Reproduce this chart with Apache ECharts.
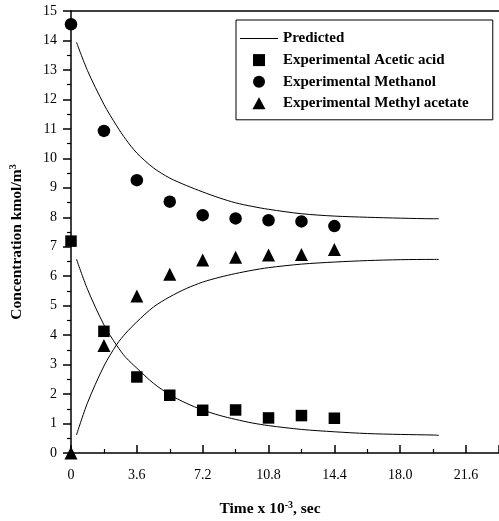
<!DOCTYPE html>
<html>
<head>
<meta charset="utf-8">
<script src="https://cdn.jsdelivr.net/npm/echarts@6/dist/echarts.min.js"></script>
<style>
  html, body { margin: 0; padding: 0; background: #fff; }
  #chart { width: 499px; height: 521px; }
</style>
</head>
<body>
<div id="chart"></div>
<script>
// Sampling times (x 10^-3 s) of the experimental runs
const expTime = [0, 1.8, 3.6, 5.4, 7.2, 9.0, 10.8, 12.6, 14.4];
// Measured concentrations, kmol/m3
const acidExp = [7.19, 4.13, 2.58, 1.96, 1.45, 1.46, 1.19, 1.27, 1.18];
const methanolExp = [14.55, 10.93, 9.26, 8.53, 8.07, 7.96, 7.90, 7.86, 7.70];
const esterExp = [0, 3.65, 5.33, 6.07, 6.55, 6.64, 6.72, 6.74, 6.91];

// Model prediction, sampled along the time axis
const predTime = [0.3, 0.9, 1.8, 2.5, 3.0, 3.6, 4.5, 5.4, 6.3, 7.2, 8.1, 9.0, 9.9, 10.8, 12.6, 14.4, 16.2, 18.0, 19.8, 20.1];
const acidPred = [6.58, 5.56, 4.35, 3.65, 3.24, 2.88, 2.37, 1.98, 1.69, 1.46, 1.28, 1.14, 1.02, 0.93, 0.80, 0.72, 0.66, 0.63, 0.61, 0.60];
const methanolPred = [13.94, 12.98, 11.83, 11.10, 10.64, 10.18, 9.68, 9.33, 9.08, 8.86, 8.66, 8.49, 8.37, 8.27, 8.12, 8.04, 8.00, 7.97, 7.95, 7.95];
const esterPred = [0.61, 1.70, 2.95, 3.68, 4.07, 4.45, 4.95, 5.30, 5.58, 5.80, 5.96, 6.09, 6.20, 6.29, 6.41, 6.48, 6.53, 6.56, 6.57, 6.57];

const xTicks = [0, 3.6, 7.2, 10.8, 14.4, 18.0, 21.6];

const serif = '"Liberation Serif", "Times New Roman", serif';
const pairs = (xs, ys) => xs.map((x, i) => [x, ys[i]]);

const chart = echarts.init(document.getElementById('chart'), null, { renderer: 'canvas' });

const lineSeries = (data) => ({
  name: 'Predicted',
  type: 'line',
  data: data,
  smooth: 0.3,
  symbol: 'none',
  showSymbol: false,
  lineStyle: { color: '#000', width: 1 },
  itemStyle: { color: '#000', opacity: 1 },
  clip: false,
  z: 2
});

const dotSeries = (name, symbol, size, data) => ({
  name: name,
  type: 'scatter',
  data: data,
  symbol: symbol,
  symbolSize: size,
  itemStyle: { color: '#000', opacity: 1 },
  clip: false,
  z: 3
});

chart.setOption({
  animation: false,
  backgroundColor: '#fff',
  grid: { left: 61, right: -21, top: 11, bottom: 68 },
  legend: {
    orient: 'vertical',
    left: 236,
    top: 20,
    padding: [11, 24, 9, 4],
    itemWidth: 38,
    itemHeight: 12,
    itemGap: 6.6,
    symbolKeepAspect: true,
    borderColor: '#000',
    borderWidth: 1,
    textStyle: { fontFamily: serif, fontWeight: 'bold', fontSize: 15, color: '#000' },
    data: [
      { name: 'Predicted', icon: 'path://M0,0 L38,0 L38,1.2 L0,1.2 Z' },
      { name: 'Experimental Acetic acid', icon: 'path://M0,0 L11,0 L11,11 L0,11 Z' },
      { name: 'Experimental Methanol', icon: 'circle' },
      { name: 'Experimental Methyl acetate', icon: 'path://M6,0 L12,11 L0,11 Z' }
    ]
  },
  xAxis: [
    {
      type: 'value',
      position: 'bottom',
      min: 0,
      max: 23.4,
      interval: 3.6,
      splitLine: { show: false },
      axisLine: { onZero: false, lineStyle: { color: '#000', width: 1.5 } },
      axisTick: { inside: true, length: 8, lineStyle: { color: '#000', width: 1.5 } },
      minorTick: { show: true, splitNumber: 2, length: 4, lineStyle: { color: '#000', width: 1.2 } },
      axisLabel: {
        margin: 15,
        fontFamily: serif,
        fontSize: 14,
        color: '#000',
        showMaxLabel: false,
        formatter: (v) => {
          const t = xTicks.find((k) => Math.abs(k - v) < 1e-6);
          if (t === undefined) return '';
          return t === 0 ? '0' : t.toFixed(1);
        }
      }
    },
    {
      type: 'value',
      position: 'top',
      min: 0,
      max: 23.4,
      splitLine: { show: false },
      axisLine: { show: true, onZero: false, lineStyle: { color: '#000', width: 1.5 } },
      axisTick: { show: false },
      axisLabel: { show: false }
    }
  ],
  yAxis: {
    type: 'value',
    min: 0,
    max: 15,
    interval: 1,
    splitLine: { show: false },
    axisLine: { show: true, onZero: false, lineStyle: { color: '#000', width: 1.5 } },
    axisTick: { show: true, inside: false, length: 8, lineStyle: { color: '#000', width: 1.5 } },
    minorTick: { show: true, splitNumber: 2, length: 4, lineStyle: { color: '#000', width: 1.2 } },
    axisLabel: { margin: 14, fontFamily: serif, fontSize: 14, color: '#000' },
    name: '{b|Concentration kmol/m}{s|3}',
    nameLocation: 'middle',
    nameRotate: 90,
    nameGap: 46,
    nameTextStyle: {
      padding: [0, 20, 0, 0],
      rich: {
        b: { fontFamily: serif, fontWeight: 'bold', fontSize: 15.5, color: '#000', lineHeight: 17 },
        s: { fontFamily: serif, fontWeight: 'bold', fontSize: 10, color: '#000', verticalAlign: 'top', lineHeight: 17 }
      }
    }
  },
  graphic: [
    {
      type: 'text',
      x: 270,
      y: 509,
      style: {
        text: '{b|Time x 10}{s|-3}{b|, sec}',
        align: 'center',
        verticalAlign: 'middle',
        rich: {
          b: { fontFamily: serif, fontWeight: 'bold', fontSize: 15.5, fill: '#000', lineHeight: 17 },
          s: { fontFamily: serif, fontWeight: 'bold', fontSize: 10, fill: '#000', verticalAlign: 'top', lineHeight: 17 }
        }
      }
    }
  ],
  series: [
    lineSeries(pairs(predTime, acidPred)),
    lineSeries(pairs(predTime, methanolPred)),
    lineSeries(pairs(predTime, esterPred)),
    dotSeries('Experimental Acetic acid', 'rect', 11.5, pairs(expTime, acidExp)),
    dotSeries('Experimental Methanol', 'circle', 12.5, pairs(expTime, methanolExp)),
    dotSeries('Experimental Methyl acetate', 'triangle', 13, pairs(expTime, esterExp))
  ]
});
</script>
</body>
</html>
